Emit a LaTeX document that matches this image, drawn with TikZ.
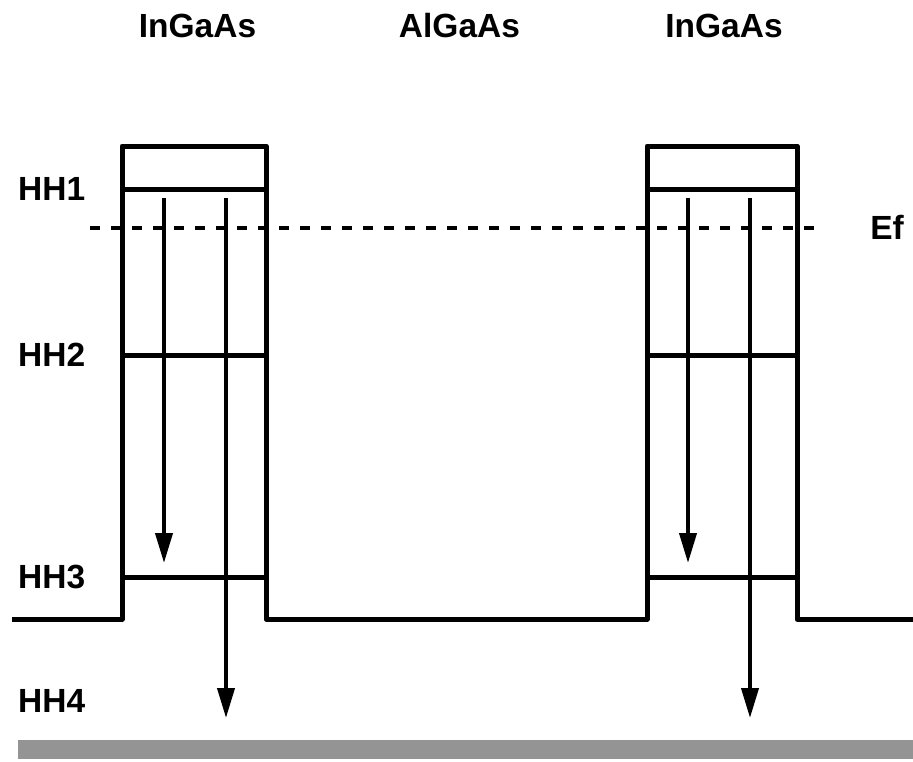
\documentclass[tikz,border=0pt]{standalone}
\usepackage{fontspec}
\setmainfont{Liberation Sans}
\usetikzlibrary{arrows.meta}
\begin{document}
\begin{tikzpicture}[x=1pt,y=-1pt,
  lbl/.style={font=\fontsize{33.5}{36}\selectfont\bfseries, inner sep=0pt},
  band/.style={line width=5pt, line join=round},
  level/.style={line width=5pt},
  trans/.style={line width=4pt, -{Triangle[length=30pt,width=17pt]}},
  fermi/.style={line width=4.5pt, dash pattern=on 10pt off 11pt}]
\useasboundingbox (0,0) rectangle (913,761);

% layer labels
\node[lbl] (l1) at (197.5,25.5) {InGaAs};
\node[lbl] (l2) at (459.5,25.5) {AlGaAs};
\node[lbl] (l3) at (724,25.5) {InGaAs};

% level labels
\node[lbl, anchor=west] (hh1) at (18,189) {HH1};
\node[lbl, anchor=west] (hh2) at (18,355) {HH2};
\node[lbl, anchor=west] (hh3) at (18,577) {HH3};
\node[lbl, anchor=west] (hh4) at (18,701) {HH4};
\node[lbl] (ef) at (887,227) {Ef};

% band profile
\draw[band] (12,619) -- (122,619) -- (122,146) -- (266,146) -- (266,619)
  -- (647,619) -- (647,146) -- (797,146) -- (797,619) -- (913,619);

% confined levels
\foreach \y in {189,355,577}{
  \draw[level] (122,\y) -- (266,\y);
  \draw[level] (647,\y) -- (797,\y);
}

% Fermi level
\draw[fermi] (90,228) -- (820,228);

% transitions
\coordinate (a1s) at (164,198); \coordinate (a1e) at (164,563);
\coordinate (a2s) at (226,198); \coordinate (a2e) at (226,718);
\coordinate (a3s) at (688,198); \coordinate (a3e) at (688,563);
\coordinate (a4s) at (750,198); \coordinate (a4e) at (750,718);
\draw[trans] (a1s) -- (a1e);
\draw[trans] (a2s) -- (a2e);
\draw[trans] (a3s) -- (a3e);
\draw[trans] (a4s) -- (a4e);

% shaded continuum bar
\fill[black!42] (18,740) rectangle (913,759);
\end{tikzpicture}
\end{document}
